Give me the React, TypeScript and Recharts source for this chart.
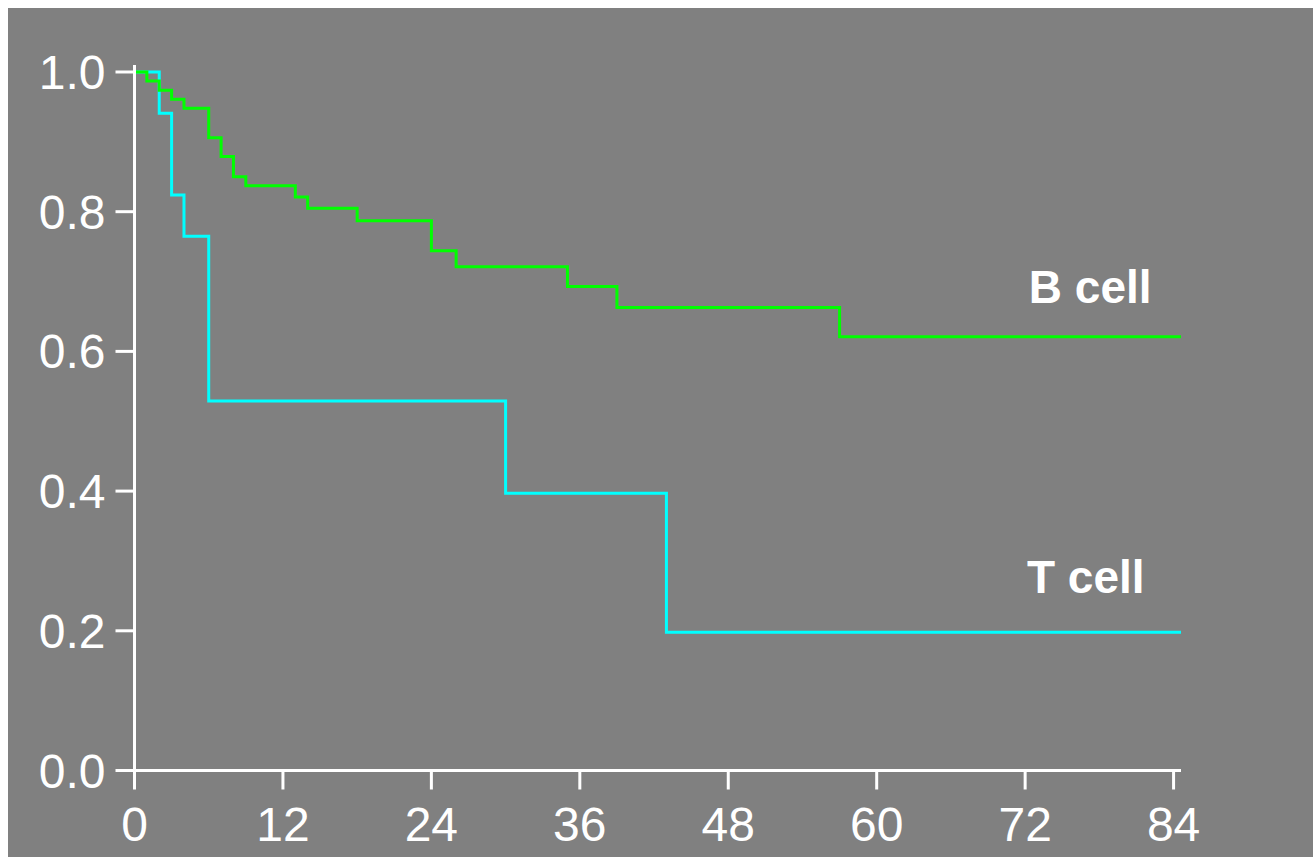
import React from 'react';
import { LineChart, Line, XAxis, YAxis, ReferenceDot } from 'recharts';

// months on study, survival fraction
const bCellMonths = [0, 1, 2, 3, 4, 6, 7, 8, 9, 13, 14, 18, 24, 26, 35, 39, 57, 84.6];
const bCellSurvival = [1, 0.987, 0.974, 0.961, 0.948, 0.906, 0.879, 0.85, 0.837, 0.821, 0.805, 0.787, 0.744, 0.721, 0.693, 0.663, 0.621, 0.621];

const tCellMonths = [0, 2, 3, 4, 6, 30, 43, 84.6];
const tCellSurvival = [1, 0.941, 0.824, 0.765, 0.529, 0.397, 0.198, 0.198];

const xTicks = [0, 12, 24, 36, 48, 60, 72, 84];
const yTicks = [0, 0.2, 0.4, 0.6, 0.8, 1.0];

const seriesLabels = [
  { text: 'B cell', month: 72.3, value: 0.669 },
  { text: 'T cell', month: 72.15, value: 0.254 },
];

const toPoints = (months: number[], values: number[]) =>
  months.map((m, i) => ({ month: m, survival: values[i] }));

const bCellData = toPoints(bCellMonths, bCellSurvival);
const tCellData = toPoints(tCellMonths, tCellSurvival);

const FONT = '"Liberation Sans", Arial, sans-serif';
const WHITE = '#ffffff';

const App: React.FC = () => {
  return (
    <div
      style={{
        position: 'absolute',
        left: 8,
        top: 8,
        width: 1305,
        height: 849,
        background: '#808080',
        fontFamily: FONT,
      }}
    >
      <LineChart
        width={1305}
        height={849}
        margin={{ top: 57, right: 132, bottom: 46.5, left: 66.5 }}
      >
        <XAxis
          dataKey="month"
          type="number"
          domain={[0, 84.6]}
          ticks={xTicks}
          height={40}
          tickSize={19}
          tickMargin={17}
          axisLine={{ stroke: WHITE, strokeWidth: 3 }}
          tickLine={{ stroke: WHITE, strokeWidth: 3 }}
          tick={{ fill: WHITE, fontSize: 48, fontFamily: FONT }}
          allowDataOverflow
        />
        <YAxis
          type="number"
          domain={[0, 1.01]}
          ticks={yTicks}
          width={60}
          tickSize={19}
          tickMargin={10}
          tickFormatter={(v: number) => v.toFixed(1)}
          axisLine={{ stroke: WHITE, strokeWidth: 3 }}
          tickLine={{ stroke: WHITE, strokeWidth: 3 }}
          tick={{ fill: WHITE, fontSize: 48, fontFamily: FONT }}
          allowDataOverflow
        />
        <Line
          data={tCellData}
          dataKey="survival"
          type="stepAfter"
          stroke="#00ffff"
          strokeWidth={3}
          dot={false}
          activeDot={false}
          isAnimationActive={false}
        />
        <Line
          data={bCellData}
          dataKey="survival"
          type="stepAfter"
          stroke="#00ff00"
          strokeWidth={3}
          dot={false}
          activeDot={false}
          isAnimationActive={false}
        />
        {seriesLabels.map((l) => (
          <ReferenceDot
            key={l.text}
            x={l.month}
            y={l.value}
            r={0.01}
            fill="none"
            stroke="none"
            ifOverflow="visible"
            label={(props: any) => (
              <text
                x={props.viewBox.x}
                y={props.viewBox.y}
                fill={WHITE}
                fontSize={46}
                fontWeight="bold"
                fontFamily={FONT}
                textAnchor="start"
              >
                {l.text}
              </text>
            )}
          />
        ))}
      </LineChart>
    </div>
  );
};

export default App;
